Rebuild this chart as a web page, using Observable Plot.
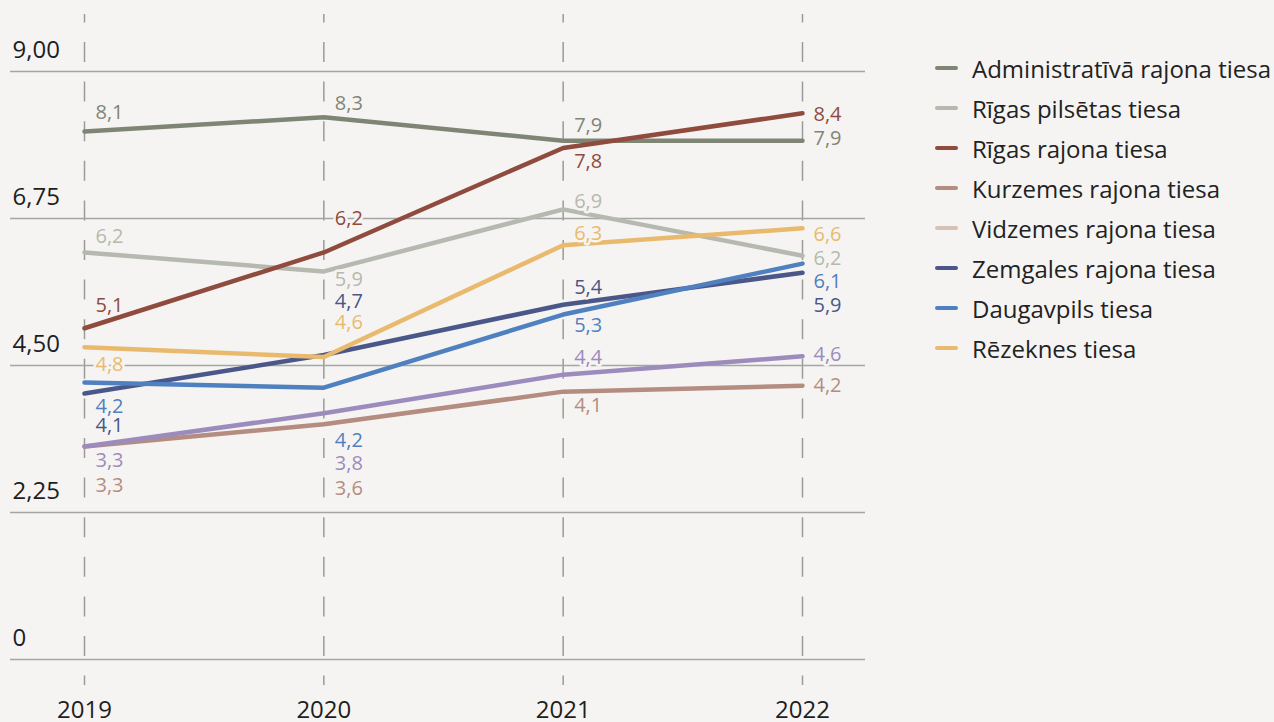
<!DOCTYPE html>
<html><head><meta charset="utf-8">
<script src="https://cdn.jsdelivr.net/npm/d3@7"></script>
<script src="https://cdn.jsdelivr.net/npm/@observablehq/plot@0.6"></script>
<style>
body{margin:0;background:#f5f4f2;font-family:"Open Sans",sans-serif;}
#wrap{position:relative;width:1274px;height:722px;overflow:hidden;}
#chart svg{display:block;}
#legend{position:absolute;left:935px;top:48px;}
.item{display:flex;align-items:center;height:40px;font-size:24px;color:#222;white-space:nowrap;}
.sw{width:23px;height:4px;border-radius:2px;margin-right:14px;flex:none;}
</style></head><body>
<div id="wrap"><div id="chart"></div><div id="legend"></div></div>
<script>
// ---- data ----
const years = [2019, 2020, 2021, 2022];
const courts = [
  "Administratīvā rajona tiesa",
  "Rīgas pilsētas tiesa",
  "Rīgas rajona tiesa",
  "Kurzemes rajona tiesa",
  "Vidzemes rajona tiesa",
  "Zemgales rajona tiesa",
  "Daugavpils tiesa",
  "Rēzeknes tiesa"
];
const administrativa = [8.08, 8.30, 7.94, 7.94];
const rigasPilsetas  = [6.23, 5.94, 6.89, 6.18];
const rigasRajona    = [5.07, 6.23, 7.83, 8.36];
const kurzemes       = [3.26, 3.60, 4.10, 4.19];
const vidzemes       = [3.26, 3.77, 4.36, 4.64];
const zemgales       = [4.07, 4.66, 5.43, 5.92];
const daugavpils     = [4.24, 4.16, 5.28, 6.06];
const rezeknes       = [4.78, 4.63, 6.34, 6.60];
const yTicks = [0, 2.25, 4.5, 6.75, 9];
const yTickLabels = ["0", "2,25", "4,50", "6,75", "9,00"];

// ---- styling ----
const series = [administrativa, rigasPilsetas, rigasRajona, kurzemes, vidzemes, zemgales, daugavpils, rezeknes];
const lineColors   = ["#7f8575", "#b6b9af", "#8f4b3d", "#b48c80", "#9c8bbd", "#4b5788", "#4f80bf", "#e9ba6e"];
const legendColors = ["#7f8575", "#b6b9af", "#8f4b3d", "#b48c80", "#d6c2b4", "#4b5788", "#4f80bf", "#e9ba6e"];
// vertical offsets (px) of value labels from their points
const labelOffsets = [
  [-19, -14, -15, -2],
  [-16,   8,  -8,  3],
  [-23, -34,  14,  1],
  [ 39,  64,  14,  0],
  [ 14,  50, -17, -2],
  [ 32, -53, -17, 33],
  [ 24,  53,  11, 18],
  [ 17, -34, -12,  6]
];
const bg = "#f5f4f2";

const rows = [];
courts.forEach((c, i) => years.forEach((yr, j) => rows.push({court: c, ci: i, year: yr, value: series[i][j], off: labelOffsets[i][j]})));
const fmt = v => v.toFixed(1).replace(".", ",");

const chart = Plot.plot({
  width: 880, height: 722,
  marginLeft: 10, marginRight: 15, marginTop: 71, marginBottom: 63,
  x: {domain: [2019, 2022], insetLeft: 74, insetRight: 63, axis: null},
  y: {domain: [0, 9], axis: null},
  color: {domain: courts, range: lineColors},
  style: {background: "transparent", fontFamily: "'Open Sans', sans-serif"},
  marks: [
    Plot.ruleX(years, {x: d => d, stroke: "#9a9a9a", strokeWidth: 1.5, strokeDasharray: "20,19.6", strokeDashoffset: 11.6, insetTop: -57, insetBottom: -26}),
    Plot.ruleY(yTicks, {y: d => d, stroke: "#a5a5a5", strokeWidth: 1.5}),
    Plot.text(yTicks, {y: d => d, frameAnchor: "left", text: (d, i) => yTickLabels[i], textAnchor: "start", dx: 2, dy: -14, lineAnchor: "bottom", fontSize: 24, fill: "#1e1e1e"}),
    Plot.text(years, {x: d => d, frameAnchor: "bottom", text: d => String(d), dy: 58, lineAnchor: "bottom", fontSize: 24, fill: "#1e1e1e"}),
    Plot.line(rows, {x: "year", y: "value", z: "court", stroke: "court", strokeWidth: 4.5, strokeLinecap: "round", strokeLinejoin: "round"}),
    ...rows.map(r => Plot.text([r], {x: "year", y: "value", text: d => fmt(d.value), dx: 11, dy: r.off, textAnchor: "start", lineAnchor: "middle", fontSize: 20, fill: lineColors[r.ci], stroke: bg, strokeWidth: 5}))
  ]
});
document.getElementById("chart").appendChild(chart);

const legend = document.getElementById("legend");
courts.forEach((c, i) => {
  const it = document.createElement("div");
  it.className = "item";
  it.innerHTML = `<span class="sw" style="background:${legendColors[i]}"></span><span>${c}</span>`;
  legend.appendChild(it);
});
</script>
</body></html>
